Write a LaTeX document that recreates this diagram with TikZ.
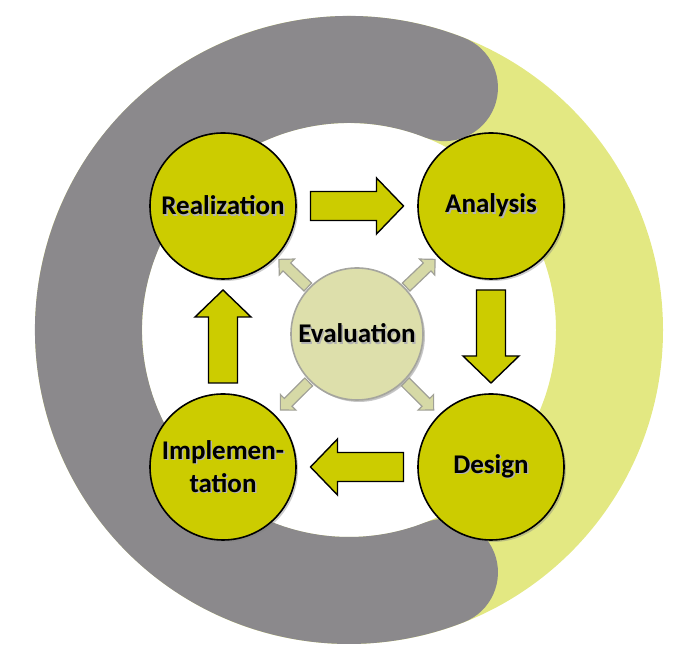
\documentclass[tikz,border=0pt]{standalone}
\usepackage{fontspec}
\setmainfont{Carlito}
\usepackage{tikz}
\usetikzlibrary{calc,shadows}

\definecolor{ringgray}{RGB}{139,137,140}
\definecolor{ringyellow}{RGB}{227,232,130}
\definecolor{stagefill}{RGB}{204,204,0}
\definecolor{evalfill}{RGB}{221,223,171}
\definecolor{evaldraw}{RGB}{165,165,158}
\definecolor{smallfill}{RGB}{214,217,166}
\definecolor{smalldraw}{RGB}{160,160,150}

\tikzset{
  stage/.style={circle, draw=black, line width=1.6pt, fill=stagefill,
    minimum size=146pt, inner sep=0pt, align=center,
    font=\fontsize{27}{33}\selectfont\bfseries,
    drop shadow={shadow xshift=2pt, shadow yshift=-2pt, opacity=0.4}},
  evalstage/.style={stage, draw=evaldraw, fill=evalfill, minimum size=132pt,
    drop shadow={shadow xshift=1.5pt, shadow yshift=-1.5pt, opacity=0.15}},
  blockarrow/.style={draw=black, line width=1.4pt, fill=stagefill, line join=miter},
  smallarrow/.style={draw=smalldraw, line width=1.2pt, fill=smallfill, line join=miter},
}

% text with a soft shadow
\newcommand{\glowtext}[1]{\makebox[0pt][l]{\hspace{1.5pt}\raisebox{-1.5pt}{\textcolor{black!30}{#1}}}#1}

% big arrow half way between two stages
\newcommand{\stagearrow}[2]{%
  \pgfmathanglebetweenpoints{\pgfpointanchor{#1}{center}}{\pgfpointanchor{#2}{center}}%
  \edef\arrowangle{\pgfmathresult}%
  \draw[blockarrow, shift={($(#1)!0.5!(#2)$)}, rotate=\arrowangle]
    (-46.5,-14.5) -- (19.5,-14.5) -- (19.5,-28) -- (46.5,0) -- (19.5,28)
    -- (19.5,14.5) -- (-46.5,14.5) -- cycle;}

% small arrow from evaluation out to a stage
\newcommand{\evalarrow}[2]{%
  \pgfmathanglebetweenpoints{\pgfpointanchor{#1}{center}}{\pgfpointanchor{#2}{center}}%
  \edef\arrowangle{\pgfmathresult}%
  \draw[smallarrow, shift={($(#1)!88pt!(#2)$)}, rotate=\arrowangle]
    (-20,-5.5) -- (9,-5.5) -- (9,-11) -- (20,0) -- (9,11)
    -- (9,5.5) -- (-20,5.5) -- cycle;}

\begin{document}
\begin{tikzpicture}[x=1pt, y=1pt]
    \useasboundingbox (0,0) rectangle (696,668);

    % Ring
    \draw[ringyellow, line width=107pt] (349,338) circle (260.5pt);
    \draw[ringgray, line width=107pt, line cap=round]
        (349,338) ++(68.5:260.5pt) arc (68.5:291.5:260.5pt);

    % Stages
    \node[stage] (real) at (223,462) {\glowtext{Realization}};
    \node[stage] (ana)  at (491,462) {\glowtext{Analysis}};
    \node[stage] (des)  at (491,201) {\glowtext{Design}};
    \node[stage] (impl) at (223,201) {\glowtext{Implemen-}\\\glowtext{tation}};
    \node[evalstage] (eval) at (357,334) {\glowtext{Evaluation}};

    % Cycle arrows
    \stagearrow{real}{ana}
    \stagearrow{ana}{des}
    \stagearrow{des}{impl}
    \stagearrow{impl}{real}

    % Evaluation arrows
    \foreach \s in {real,ana,des,impl} {
        \evalarrow{eval}{\s}
    }

\end{tikzpicture}
\end{document}
